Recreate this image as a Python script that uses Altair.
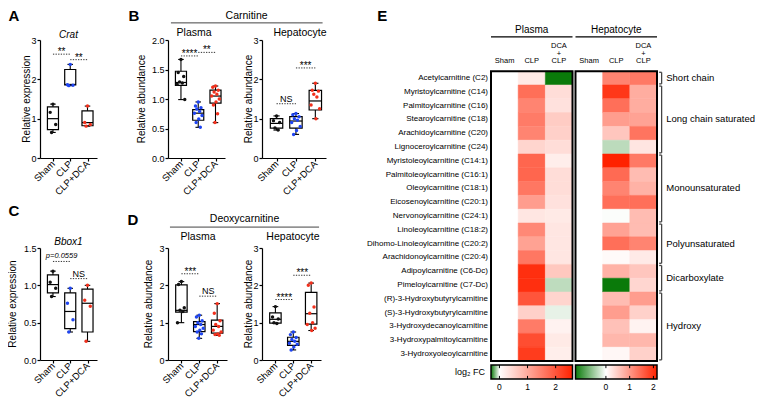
import altair as alt
import pandas as pd

FONT = "Liberation Sans"
GROUPS = ["Sham", "CLP", "CLP+DCA"]
POINT_COLORS = ["#111111", "#1f45f2", "#f2301c"]

# ---- box summaries per group: [lower whisker, Q1, median, Q3, upper whisker] ----
CRAT_BOX = [[0.65, 0.72, 1.00, 1.30, 1.37], [1.84, 1.86, 1.87, 2.25, 2.38], [0.81, 0.82, 0.90, 1.20, 1.32]]
CRAT_PTS = [[1.37, 1.16, 0.85, 0.65], [2.38, 1.86, 1.85, 1.84], [1.32, 0.90, 0.85, 0.81]]

BBOX1_BOX = [[0.85, 0.90, 1.01, 1.14, 1.19], [0.375, 0.42, 0.65, 0.90, 0.96], [0.25, 0.375, 0.76, 0.95, 1.00]]
BBOX1_PTS = [[1.19, 1.04, 0.96, 0.85], [0.96, 0.76, 0.54, 0.375], [1.00, 0.80, 0.72, 0.25]]

CARN_PL_BOX = [[0.99, 1.23, 1.28, 1.47, 1.67], [0.52, 0.64, 0.76, 0.82, 0.95], [0.60, 0.93, 1.05, 1.15, 1.22]]
CARN_PL_PTS = [[1.67, 1.45, 1.38, 1.29, 1.27, 1.25, 0.99],
               [0.95, 0.88, 0.85, 0.83, 0.79, 0.76, 0.72, 0.66, 0.60, 0.52],
               [1.22, 1.20, 1.15, 1.12, 1.08, 1.05, 1.00, 0.95, 0.90, 0.75, 0.60]]
CARN_HE_BOX = [[0.71, 0.76, 0.88, 1.00, 1.07], [0.60, 0.76, 0.94, 1.05, 1.13], [1.00, 1.22, 1.45, 1.72, 1.90]]
CARN_HE_PTS = [[1.07, 0.95, 0.90, 0.76, 0.71],
               [1.13, 1.10, 1.05, 1.00, 0.96, 0.90, 0.80, 0.70, 0.60],
               [1.90, 1.72, 1.70, 1.62, 1.55, 1.35, 1.25, 1.00]]

DEOX_PL_BOX = [[1.00, 1.28, 1.33, 2.01, 2.10], [0.58, 0.76, 0.95, 1.03, 1.20], [0.66, 0.72, 0.90, 1.07, 1.51]]
DEOX_PL_PTS = [[2.10, 2.02, 1.40, 1.33, 1.30, 1.00],
               [1.20, 1.15, 1.05, 1.00, 0.95, 0.90, 0.85, 0.80, 0.75, 0.70, 0.58],
               [1.51, 1.25, 1.05, 0.95, 0.90, 0.80, 0.75, 0.70, 0.68, 0.66]]
DEOX_HE_BOX = [[0.98, 0.99, 1.09, 1.26, 1.43], [0.27, 0.39, 0.50, 0.61, 0.75], [0.79, 0.96, 1.24, 1.81, 2.06]]
DEOX_HE_PTS = [[1.43, 1.15, 1.10, 1.00, 0.98],
               [0.75, 0.68, 0.60, 0.55, 0.50, 0.45, 0.42, 0.35, 0.27],
               [2.06, 2.00, 1.42, 1.25, 1.00, 0.95, 0.85, 0.79]]

# ---- heatmap (log2 fold change vs Sham) ----
ACYL = ["Acetylcarnitine (C2)", "Myristoylcarnitine (C14)", "Palmitoylcarnitine (C16)",
        "Stearoylcarnitine (C18)", "Arachidoylcarnitine (C20)", "Lignoceroylcarnitine (C24)",
        "Myristoleoylcarnitine (C14:1)", "Palmitoleoylcarnitine (C16:1)", "Oleoylcarnitine (C18:1)",
        "Eicosenoylcarnitine (C20:1)", "Nervonoylcarnitine (C24:1)", "Linoleoylcarnitine (C18:2)",
        "Dihomo-Linoleoylcarnitine (C20:2)", "Arachidonoylcarnitine (C20:4)", "Adipoylcarnitine (C6-Dc)",
        "Pimeloylcarnitine (C7-Dc)", "(R)-3-Hydroxybutyrylcarnitine", "(S)-3-Hydroxybutyrylcarnitine",
        "3-Hydroxydecanoylcarnitine", "3-Hydroxypalmitoylcarnitine", "3-Hydroxyoleoylcarnitine"]
SHAM_FC = [0.0] * 21
PL_CLP = [0.25, 1.70, 1.45, 1.55, 1.45, 0.50, 1.80, 1.80, 1.60, 1.15, 0.30, 1.40, 1.10, 1.60,
          2.45, 2.45, 2.00, 0.55, 1.55, 2.10, 2.30]
PL_DCA = [-0.30, 0.40, 0.35, 0.60, 0.55, 0.40, 0.20, 0.40, 0.40, 0.35, 0.25, 0.30, 0.30, 0.30,
          0.65, -0.08, 0.50, -0.03, 0.15, 0.25, 0.20]
HE_CLP = [1.20, 1.95, 1.40, 0.95, 0.55, -0.35, 2.15, 1.45, 1.20, 1.40, -0.02, 0.90, 1.40, 0.05,
          0.75, -1.28, 0.65, 0.95, 0.60, 0.70, 0.08]
HE_DCA = [1.30, 0.80, 0.80, 0.90, 1.35, 0.25, 1.30, 0.65, 0.75, 1.40, 0.65, 0.65, 1.20, 0.20,
          0.55, 0.40, 0.95, 0.45, 0.12, 0.70, 0.45]
CB_PL = [-0.3, 2.6]     # colour-bar range, plasma
CB_HE = [-1.28, 2.15]   # colour-bar range, hepatocyte
CB_TICKS = [0, 1, 2]
CLASSES = ["Short chain", "Long chain saturated", "Monounsaturated", "Polyunsaturated",
           "Dicarboxylate", "Hydroxy"]
CLASS_SIZES = [1, 5, 5, 3, 2, 5]

ONE = pd.DataFrame({"k": [0]})
JIT = "[0, -0.16, 0.16, -0.08, 0.08, -0.22, 0.22, 0.03, -0.12, 0.12, -0.03][datum.i % 11]"
GREEN, WHITE, RED = "#0a7a0a", "#ffffff", "#ff2200"


class Ctx:
    def __init__(self, xs, ys, xa=None, ya=None):
        self.xs, self.ys, self.xa, self.ya = xs, ys, xa, ya

    def X(self, f):
        return alt.X(f, scale=self.xs, axis=self.xa)

    def Y(self, f):
        return alt.Y(f, scale=self.ys, axis=self.ya)

    def XD(self, v):
        return alt.XDatum(v, scale=self.xs, axis=self.xa)

    def YD(self, v):
        return alt.YDatum(v, scale=self.ys, axis=self.ya)


def txt(cx, text, x, y, size, weight="normal", style="normal", align="center", baseline="middle",
        dx=0, dy=0, angle=0):
    return alt.Chart(ONE).mark_text(text=text, font=FONT, fontSize=size, fontWeight=weight,
                                    fontStyle=style, align=align, baseline=baseline, dx=dx, dy=dy,
                                    angle=angle, color="black").encode(x=cx.XD(x), y=cx.YD(y))


def hline(cx, x1, x2, y, color="black", width=1.0, dash=None):
    kw = dict(color=color, strokeWidth=width)
    if dash:
        kw["strokeDash"] = dash
    return alt.Chart(ONE).mark_rule(**kw).encode(x=cx.XD(x1), x2=alt.X2Datum(x2), y=cx.YD(y))


def vline(cx, x, y1, y2, color="black", width=1.0):
    return alt.Chart(ONE).mark_rule(color=color, strokeWidth=width).encode(
        x=cx.XD(x), y=cx.YD(y1), y2=alt.Y2Datum(y2))


def box_panel(box, pts, ydom, yvals, yfmt, w, h, ytitle, title_x, sigs, texts, lines=()):
    xs = alt.Scale(domain=[-0.75, 2.55], nice=False, zero=False)
    ys = alt.Scale(domain=ydom, nice=False, zero=False)
    lab_expr = "[" + ",".join("'%s'" % g for g in GROUPS) + "][datum.value]"
    xaxis = alt.Axis(values=[0, 1, 2], labelExpr=lab_expr, labelAngle=-45, labelAlign="right",
                     labelBaseline="middle", labelOverlap=False, labelFlush=False, labelBound=False,
                     title=None, tickSize=3, labelPadding=1, labelFontSize=9.5)
    # y-axis title is drawn as a rotated text mark so that its distance from the axis can follow the original
    yaxis = alt.Axis(values=yvals, format=yfmt, title=None, tickSize=3, labelPadding=1,
                     labelFlush=False, labelOverlap=False)
    cx = Ctx(xs, ys, xaxis, yaxis)
    bdf = pd.DataFrame({"g": [0, 1, 2], "lo": [b[0] for b in box], "q1": [b[1] for b in box],
                        "med": [b[2] for b in box], "q3": [b[3] for b in box], "hi": [b[4] for b in box]})
    pdf = pd.DataFrame([{"g": g, "i": i, "v": v} for g, vals in enumerate(pts) for i, v in enumerate(vals)])
    base = alt.Chart(bdf)
    whisk = base.mark_rule(color="black", strokeWidth=1.1).encode(x=cx.X("g:Q"), y=cx.Y("lo:Q"), y2="hi:Q")
    boxes = base.transform_calculate(xl="datum.g - 0.32", xr="datum.g + 0.32").mark_rect(
        fill="white", stroke="black", strokeWidth=1.2).encode(
        x=cx.X("xl:Q"), x2="xr:Q", y=cx.Y("q1:Q"), y2="q3:Q")
    meds = base.transform_calculate(xl="datum.g - 0.32", xr="datum.g + 0.32").mark_rule(
        color="black", strokeWidth=1.2).encode(x=cx.X("xl:Q"), x2="xr:Q", y=cx.Y("med:Q"))
    caps = base.transform_fold(["lo", "hi"], as_=["k", "cv"]).transform_calculate(
        cl="datum.g - 0.16", cr="datum.g + 0.16").mark_rule(color="black", strokeWidth=1.1).encode(
        x=cx.X("cl:Q"), x2="cr:Q", y=cx.Y("cv:Q"))
    dots = alt.Chart(pdf).transform_calculate(px="datum.g + " + JIT).mark_circle(size=12, opacity=1).encode(
        x=cx.X("px:Q"), y=cx.Y("v:Q"),
        color=alt.Color("g:N", scale=alt.Scale(domain=[0, 1, 2], range=POINT_COLORS), legend=None))
    layers = [whisk, boxes, meds, caps, dots]
    # rotated y-axis title, centred on the y range, placed title_x pixels left of the axis
    px_per_x = w / 3.3
    layers.append(txt(cx, ytitle, -0.75 + title_x / px_per_x, (ydom[0] + ydom[1]) / 2, 10, angle=270))
    for (i, j, lab, ly) in sigs:
        layers.append(hline(cx, i, j, ly, color="#333333", width=1.0, dash=[1.3, 1.3]))
        if lab.startswith("*"):
            layers.append(txt(cx, lab, (i + j) / 2, ly, 10, baseline="alphabetic", dy=1))
        elif lab == "NS":
            layers.append(txt(cx, lab, (i + j) / 2, ly, 9, baseline="alphabetic", dy=-2))
        else:
            layers.append(txt(cx, lab, (i + j) / 2, ly, 7.5, style="italic", baseline="alphabetic", dy=-3.5))
    for t in texts:
        layers.append(txt(cx, *t))
    for (x1, x2, y) in lines:
        layers.append(hline(cx, x1, x2, y, color="#444444", width=1.0))
    return alt.layer(*layers).properties(width=w, height=h)


A = box_panel(CRAT_BOX, CRAT_PTS, [0, 3], [0, 1, 2, 3], "d", 57, 118, "Relative expression", -13,
              [(0, 1, "**", 2.64), (1, 2, "**", 2.50)],
              [("A", -2.26, 3.61, 15, "bold"), ("Crat", 0.9, 3.13, 10, "normal", "italic")])
C = box_panel(BBOX1_BOX, BBOX1_PTS, [0, 1.5], [0, 0.5, 1.0, 1.5], ".1f", 57, 112, "Relative expression", -27,
              [(0, 1, "p=0.0559", 1.32), (1, 2, "NS", 1.09)],
              [("C", -2.26, 2.0, 15, "bold"), ("Bbox1", 0.9, 1.58, 10, "normal", "italic")])
Bp = box_panel(CARN_PL_BOX, CARN_PL_PTS, [0, 2], [0, 0.5, 1.0, 1.5, 2.0], ".1f", 57, 118, "Relative abundance", -26,
               [(0, 1, "****", 1.73), (1, 2, "**", 1.79)],
               [("B", -2.72, 2.41, 15, "bold"), ("Carnitine", 3.8, 2.41, 10.5),
                ("Plasma", 0.76, 2.12, 10.5)],
               [(-0.58, 8.2, 2.29)])
Bh = box_panel(CARN_HE_BOX, CARN_HE_PTS, [0, 3], [0, 1, 2, 3], "d", 64, 118, "Relative abundance", -13,
               [(0, 1, "NS", 1.38), (1, 2, "***", 2.29)],
               [("Hepatocyte", 1.21, 3.18, 10.5)])
Dp = box_panel(DEOX_PL_BOX, DEOX_PL_PTS, [0, 3], [0, 1, 2, 3], "d", 59, 112, "Relative abundance", -19,
               [(0, 1, "***", 2.31), (1, 2, "NS", 1.71)],
               [("D", -2.71, 3.75, 15, "bold"), ("Deoxycarnitine", 3.53, 3.78, 10.5),
                ("Plasma", 0.93, 3.29, 10.5)],
               [(-0.64, 7.7, 3.56)])
Dh = box_panel(DEOX_HE_BOX, DEOX_HE_PTS, [0, 3], [0, 1, 2, 3], "d", 59, 112, "Relative abundance", -13,
               [(0, 1, "****", 1.62), (1, 2, "***", 2.27)],
               [("Hepatocyte", 0.98, 3.29, 10.5)])

# ---------------- heatmap E ----------------
HEP_OFF = 3.11
ROW_PX = 13.8
E_H = 118
EX = alt.Scale(domain=[0, 6.11], nice=False, zero=False)
EY = alt.Scale(domain=[-2.26, -2.26 + E_H / ROW_PX], reverse=True, nice=False, zero=False)
ecx = Ctx(EX, EY, None, None)


def heat_layer(cols, off, rng):
    df = pd.DataFrame([{"r": r, "c": c, "v": vals[r]} for c, vals in enumerate(cols) for r in range(len(ACYL))])
    cs = alt.Scale(domain=[rng[0], 0, rng[1]], range=[GREEN, WHITE, RED], interpolate="rgb")
    return alt.Chart(df).transform_calculate(
        x0="datum.c + %s" % off, x1="datum.c + 1 + %s" % off, y0="datum.r", y1="datum.r + 1"
    ).mark_rect(strokeWidth=0.5).encode(
        x=ecx.X("x0:Q"), x2="x1:Q", y=ecx.Y("y0:Q"), y2="y1:Q",
        fill=alt.Fill("v:Q", scale=cs, legend=None), stroke=alt.Stroke("v:Q", scale=cs, legend=None))


def colorbar(off, rng):
    z = (0 - rng[0]) / (rng[1] - rng[0])
    grad = alt.Gradient(gradient="linear", x1=0, x2=1, y1=0, y2=0,
                        stops=[alt.GradientStop(color=GREEN, offset=0), alt.GradientStop(color=WHITE, offset=z),
                               alt.GradientStop(color=RED, offset=1)])
    bar = alt.Chart(ONE).mark_rect(fill=grad, stroke="black", strokeWidth=1.5).encode(
        x=ecx.XD(off), x2=alt.X2Datum(off + 3), y=ecx.YD(21.29), y2=alt.Y2Datum(22.31))
    tdf = pd.DataFrame({"t": CB_TICKS})
    pos = "%s + (datum.t - (%s)) / (%s) * 3" % (off, rng[0], rng[1] - rng[0])
    tb = alt.Chart(tdf).transform_calculate(xp=pos)
    top = tb.mark_rule(color="black", strokeWidth=1).encode(
        x=ecx.X("xp:Q"), y=ecx.YD(21.29), y2=alt.Y2Datum(21.52))
    bot = tb.mark_rule(color="black", strokeWidth=1).encode(
        x=ecx.X("xp:Q"), y=ecx.YD(22.08), y2=alt.Y2Datum(22.31))
    lab = tb.transform_calculate(lt="format(datum.t, 'd')").mark_text(
        font=FONT, fontSize=8.5, color="black", baseline="middle").encode(
        x=ecx.X("xp:Q"), y=ecx.YD(22.92), text="lt:N")
    return [bar, top, bot, lab]


e_layers = [heat_layer([SHAM_FC, PL_CLP, PL_DCA], 0, CB_PL), heat_layer([SHAM_FC, HE_CLP, HE_DCA], HEP_OFF, CB_HE)]
for off in (0, HEP_OFF):
    e_layers.append(alt.Chart(ONE).mark_rect(fillOpacity=0, stroke="black", strokeWidth=2).encode(
        x=ecx.XD(off), x2=alt.X2Datum(off + 3), y=ecx.YD(0), y2=alt.Y2Datum(21)))
    e_layers.append(hline(ecx, off, off + 3, -2.48, width=1.2))
    e_layers += [txt(ecx, "Sham", off + 0.5, -0.72, 7.5), txt(ecx, "CLP", off + 1.5, -0.72, 7.5),
                 txt(ecx, "CLP", off + 2.5, -0.72, 7.5), txt(ecx, "+", off + 2.5, -1.27, 7.5),
                 txt(ecx, "DCA", off + 2.5, -1.84, 7.5)]
e_layers += [txt(ecx, "Plasma", 1.5, -2.99, 10), txt(ecx, "Hepatocyte", HEP_OFF + 1.5, -2.99, 10),
             txt(ecx, "E", -4.0, -3.98, 15, "bold")]
rdf = pd.DataFrame({"r": list(range(len(ACYL))), "name": ACYL})
e_layers.append(alt.Chart(rdf).transform_calculate(yc="datum.r + 0.5").mark_text(
    font=FONT, fontSize=8, align="right", baseline="middle", dx=-3, color="black").encode(
    x=ecx.XD(0), y=ecx.Y("yc:Q"), text="name:N"))
e_layers += colorbar(0, CB_PL) + colorbar(HEP_OFF, CB_HE)
e_layers.append(txt(ecx, "log\u2082 FC", 0, 21.8, 9, align="right", dx=-6))
start = 0
for name, n in zip(CLASSES, CLASS_SIZES):
    s, e = start + 0.08, start + n - 0.08
    e_layers.append(vline(ecx, 6.28, s, e, color="#444444", width=1.3))
    e_layers.append(hline(ecx, 6.19, 6.28, s, color="#444444", width=1.3))
    e_layers.append(hline(ecx, 6.19, 6.28, e, color="#444444", width=1.3))
    e_layers.append(txt(ecx, name, 6.45, start + n / 2, 9.5, align="left"))
    start += n

E = alt.layer(*e_layers).resolve_scale(fill="independent", stroke="independent").properties(
    width=166, height=E_H)


def spacer(w):
    return alt.Chart(ONE).mark_point(opacity=0).encode(
        x=alt.XDatum(0, axis=None), y=alt.YDatum(0, axis=None)).properties(width=w, height=1)


chart = alt.concat(
    A, spacer(71), Bp, spacer(35), Bh, spacer(165), E,
    C, spacer(1), Dp, spacer(1), Dh,
    columns=7, spacing={"row": 90, "column": 0}, bounds="flush"
).properties(padding=0).configure_view(
    strokeWidth=0
).configure_axis(
    domainColor="black", domainWidth=1.2, tickColor="black", tickWidth=1.2, grid=False,
    labelFont=FONT, labelFontSize=9, labelColor="black",
    titleFont=FONT, titleFontSize=10, titleFontWeight="normal", titleColor="black"
)

chart.save("out.html", embed_options={"renderer": "svg", "actions": False})
